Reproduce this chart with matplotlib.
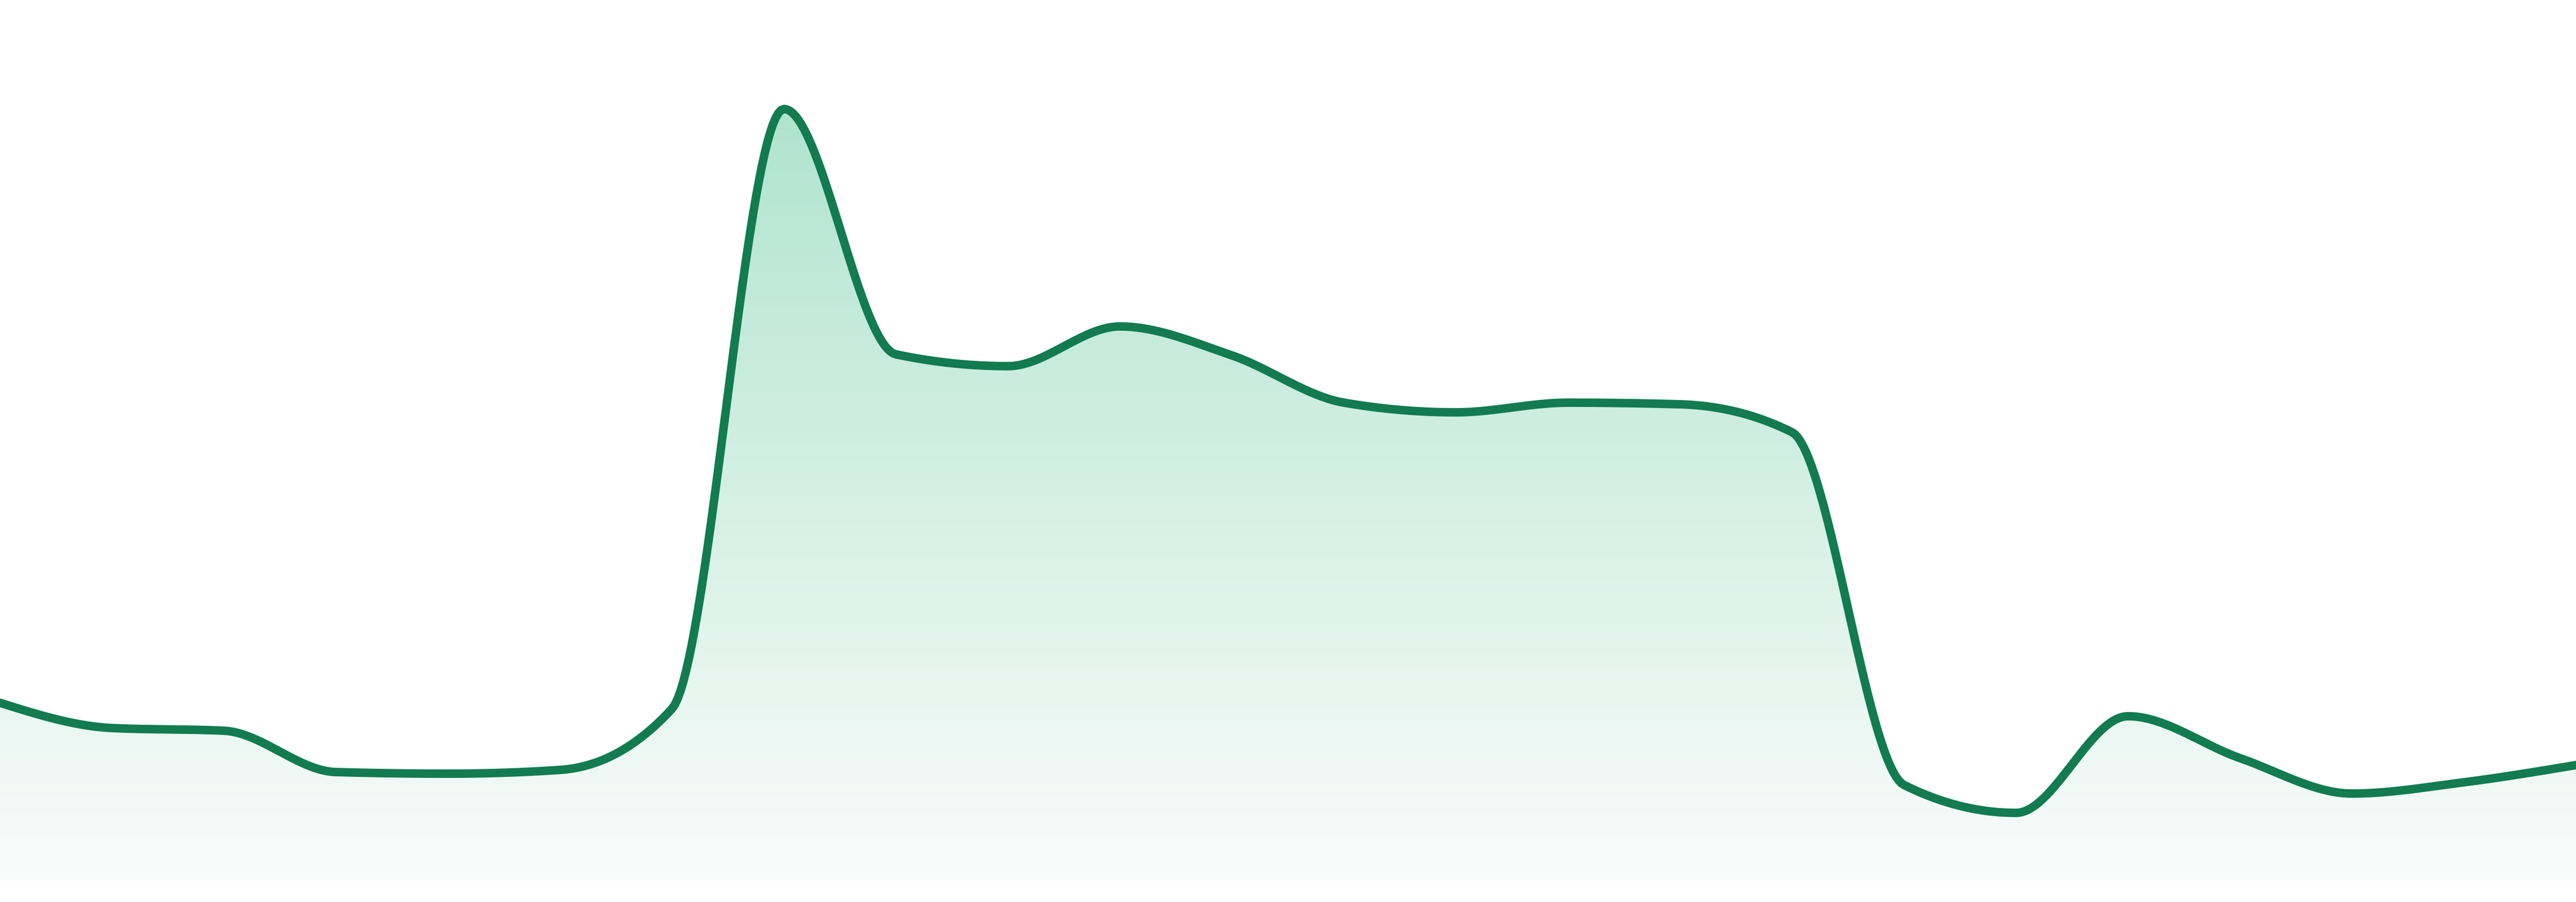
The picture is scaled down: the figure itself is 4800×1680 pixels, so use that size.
import matplotlib
matplotlib.use("Agg")
import matplotlib.pyplot as plt
import numpy as np

# values, one per step (evenly spaced points)
steps = list(range(24))
values = [33.1, 28.4, 27.9, 20.2, 19.9, 20.6, 32.0, 143.7, 98.0, 95.8, 103.2, 97.8,
          89.0, 87.2, 89.0, 88.7, 83.5, 17.8, 12.6, 30.6, 22.8, 16.2, 18.3, 21.5]

line_color = "#127b50"
fill_top = np.array([176, 228, 207]) / 255
fill_bottom = np.array([250, 252, 251]) / 255


def monotone_x(x, y, n=40):
    # monotone cubic interpolation (same idea as d3.curveMonotoneX)
    x = np.asarray(x, float)
    y = np.asarray(y, float)
    h = np.diff(x)
    s = np.diff(y) / h
    t = np.zeros_like(y)
    for i in range(1, len(y) - 1):
        p = (s[i - 1] * h[i] + s[i] * h[i - 1]) / (h[i - 1] + h[i])
        t[i] = (np.sign(s[i - 1]) + np.sign(s[i])) * min(abs(s[i - 1]), abs(s[i]), 0.5 * abs(p))
    t[0] = (3 * s[0] - t[1]) / 2 if len(y) > 2 else s[0]
    t[-1] = (3 * s[-1] - t[-2]) / 2 if len(y) > 2 else s[-1]
    xs, ys = [], []
    for i in range(len(y) - 1):
        u = np.linspace(0, 1, n, endpoint=False)
        dx = h[i]
        p0, p3 = y[i], y[i + 1]
        p1 = p0 + dx / 3 * t[i]
        p2 = p3 - dx / 3 * t[i + 1]
        xs.append(x[i] + dx * u)
        ys.append((1 - u) ** 3 * p0 + 3 * (1 - u) ** 2 * u * p1 + 3 * (1 - u) * u ** 2 * p2 + u ** 3 * p3)
    xs.append([x[-1]])
    ys.append([y[-1]])
    return np.concatenate(xs), np.concatenate(ys)


fig = plt.figure(figsize=(16, 5.6), dpi=300)
ax = fig.add_axes([0, 0, 1, 1])
ax.set_xlim(steps[0], steps[-1])
ax.set_ylim(-4, 164)
ax.axis("off")

xs, ys = monotone_x(steps, values)

# area with vertical gradient
poly = ax.fill_between(xs, ys, 0, color="none", lw=0)
top = max(values)
grad = np.linspace(0, 1, 256)[:, None]
img = fill_top[None, None, :] * (1 - grad[..., None]) + fill_bottom[None, None, :] * grad[..., None]
img = np.repeat(img, 2, axis=1)
im = ax.imshow(img, extent=[steps[0], steps[-1], 0, top], aspect="auto", origin="upper", zorder=1)
clip = poly.get_paths()[0]
im.set_clip_path(clip, transform=ax.transData)

ax.plot(xs, ys, color=line_color, lw=3.8, solid_capstyle="round", solid_joinstyle="round", zorder=3)

fig.savefig("out.png", dpi=300, facecolor="white")
